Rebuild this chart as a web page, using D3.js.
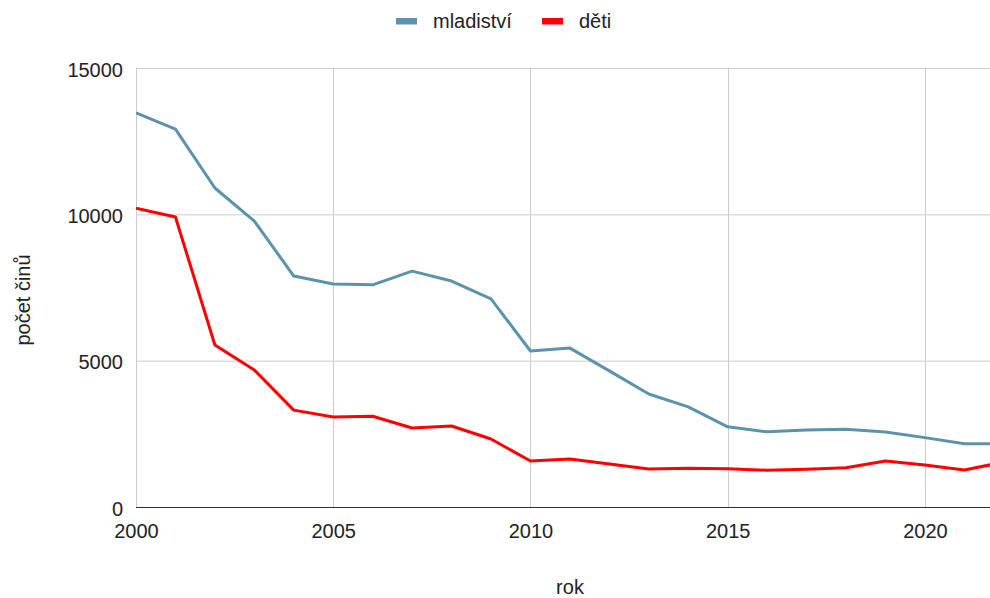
<!DOCTYPE html>
<html><head><meta charset="utf-8">
<script src="https://cdn.jsdelivr.net/npm/d3@7/dist/d3.min.js"></script>
<style>body{margin:0;background:#fff;} svg{display:block;font-family:"Liberation Sans",Arial,sans-serif;}</style>
</head><body>
<svg id="c" width="990" height="598"></svg>
<script>
const years = [2000,2001,2002,2003,2004,2005,2006,2007,2008,2009,2010,2011,2012,2013,2014,2015,2016,2017,2018,2019,2020,2021,2022];
const mladistvi = [13470,12910,10900,9770,7890,7620,7590,8060,7720,7110,5330,5430,4650,3860,3420,2740,2570,2630,2655,2560,2370,2160,2160];
const deti = [10210,9910,5535,4680,3310,3075,3100,2700,2767,2323,1572,1640,1469,1298,1322,1308,1254,1288,1343,1572,1435,1264,1535];
const xTicks = [2000,2005,2010,2015,2020];
const yTicks = [0,5000,10000,15000];
const seriesNames = ["mladiství","děti"];
const colors = ["#5b93ad","#ff0000"];

const svg = d3.select("#c");
const L=136,R=990,T=68,B=507;
const FS=20;
const x = d3.scaleLinear().domain([2000,2021.65]).range([L,R]);
const y = d3.scaleLinear().domain([0,15000]).range([B,T]);

svg.append("defs").append("clipPath").attr("id","clip").append("rect")
  .attr("x",L).attr("y",0).attr("width",R-L).attr("height",598);

// grid
svg.append("g").selectAll("line").data(yTicks.filter(d=>d>0)).join("line")
  .attr("x1",L).attr("x2",R).attr("y1",d=>y(d)+0.5).attr("y2",d=>y(d)+0.5)
  .attr("stroke","#cccccc").attr("stroke-width",1);
svg.append("g").selectAll("line").data(xTicks).join("line")
  .attr("x1",d=>Math.round(x(d))+0.5).attr("x2",d=>Math.round(x(d))+0.5).attr("y1",T).attr("y2",B)
  .attr("stroke","#cccccc").attr("stroke-width",1);

// lines
const series=[mladistvi,deti];
const line = d3.line().x((d,i)=>x(years[i])).y(d=>y(d));
svg.append("g").attr("clip-path","url(#clip)").selectAll("path").data(series).join("path")
  .attr("d",d=>line(d)).attr("fill","none").attr("stroke",(d,i)=>colors[i])
  .attr("stroke-width",3).attr("stroke-linejoin","round");

// baseline
svg.append("line").attr("x1",L).attr("x2",R).attr("y1",B+0.5).attr("y2",B+0.5).attr("stroke","#333").attr("stroke-width",1);

// axes labels
const yAxis = d3.axisLeft(y).tickValues(yTicks).tickSize(0).tickPadding(13).tickFormat(d3.format("d"));
const ga = svg.append("g").attr("transform",`translate(${L},0)`).call(yAxis);
ga.select(".domain").remove();
ga.selectAll("text").attr("font-size",FS).attr("fill","#222").attr("dy","0.4em").attr("font-family","Liberation Sans, Arial, sans-serif");

const xAxis = d3.axisBottom(x).tickValues(xTicks).tickSize(0).tickPadding(17).tickFormat(d3.format("d"));
const gx = svg.append("g").attr("transform",`translate(0,${B})`).call(xAxis);
gx.select(".domain").remove();
gx.selectAll("text").attr("font-size",FS).attr("fill","#222").attr("font-family","Liberation Sans, Arial, sans-serif");

svg.append("text").attr("x",570).attr("y",594).attr("text-anchor","middle").attr("font-size",FS).attr("fill","#222").text("rok");
svg.append("text").attr("transform","translate(30,300) rotate(-90)").attr("text-anchor","middle").attr("font-size",FS).attr("fill","#222").text("počet činů");

// legend
const leg = [{x:396,tx:433},{x:542,tx:579}];
seriesNames.forEach((n,i)=>{
  svg.append("rect").attr("x",leg[i].x).attr("y",18).attr("width",21).attr("height",6.5).attr("fill",colors[i]);
  svg.append("text").attr("x",leg[i].tx).attr("y",28).attr("font-size",FS).attr("fill","#222").text(n);
});
</script>
</body></html>
